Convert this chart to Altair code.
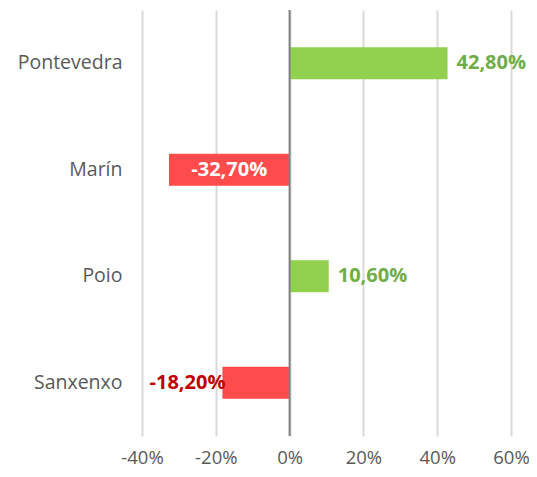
import altair as alt
import pandas as pd

cities = ["Pontevedra", "Marín", "Poio", "Sanxenxo"]
values = [42.8, -32.7, 10.6, -18.2]

df = pd.DataFrame({"city": cities, "value": values})

FONT = "Open Sans"
x_scale = alt.Scale(domain=[-40, 60], nice=False, zero=False)
y_enc = alt.Y("city:N", sort=cities, title=None,
              scale=alt.Scale(paddingInner=0.7, paddingOuter=0.35),
              axis=alt.Axis(ticks=False, domain=False, labelPadding=20,
                            labelFontSize=19.5, labelColor="#595959", labelFont=FONT))

base = alt.Chart(df)

bars = base.mark_bar().encode(
    x=alt.X("value:Q", scale=x_scale, title=None,
            axis=alt.Axis(values=[-40, -20, 0, 20, 40, 60], labelExpr="datum.value + '%'",
                          ticks=False, domain=False, grid=True, gridColor="#D9D9D9",
                          gridWidth=2, labelPadding=12, labelFontSize=18.5, labelFlush=False,
                          labelColor="#595959", labelFont=FONT)),
    x2=alt.datum(0),
    y=y_enc,
    color=alt.condition("datum.value > 0", alt.value("#92D050"), alt.value("#FF4B4B")),
)

zero = alt.Chart(pd.DataFrame({"z": [0]})).mark_rule(color="#808080", strokeWidth=2).encode(
    x=alt.X("z:Q", scale=x_scale)
)

label_expr = "replace(replace(format(datum.value / 100, '.2%'), '.', ','), '\u2212', '-')"

pos_labels = base.transform_filter("datum.value > 0").transform_calculate(
    lab=label_expr
).mark_text(align="left", dx=9, fontSize=20, fontWeight="bold", color="#70AD47", font=FONT).encode(
    x=alt.X("value:Q", scale=x_scale), y=alt.Y("city:N", sort=cities), text="lab:N"
)

inside_labels = base.transform_filter("datum.value <= -25").transform_calculate(
    lab=label_expr, mid="datum.value / 2"
).mark_text(align="center", fontSize=20, fontWeight="bold", color="white", font=FONT).encode(
    x=alt.X("mid:Q", scale=x_scale), y=alt.Y("city:N", sort=cities), text="lab:N"
)

neg_labels = base.transform_filter("datum.value < 0 && datum.value > -25").transform_calculate(
    lab=label_expr
).mark_text(align="right", dx=3, fontSize=20, fontWeight="bold", color="#C00000", font=FONT).encode(
    x=alt.X("value:Q", scale=x_scale), y=alt.Y("city:N", sort=cities), text="lab:N"
)

chart = alt.layer(bars, zero, pos_labels, inside_labels, neg_labels).properties(
    width=369, height=426,
    autosize=alt.AutoSizeParams(type="none"),
    padding={"left": 134, "top": 2, "right": 18, "bottom": 33},
).configure_view(stroke=None)

chart.save("out.html", embed_options={"renderer": "svg", "actions": False})
